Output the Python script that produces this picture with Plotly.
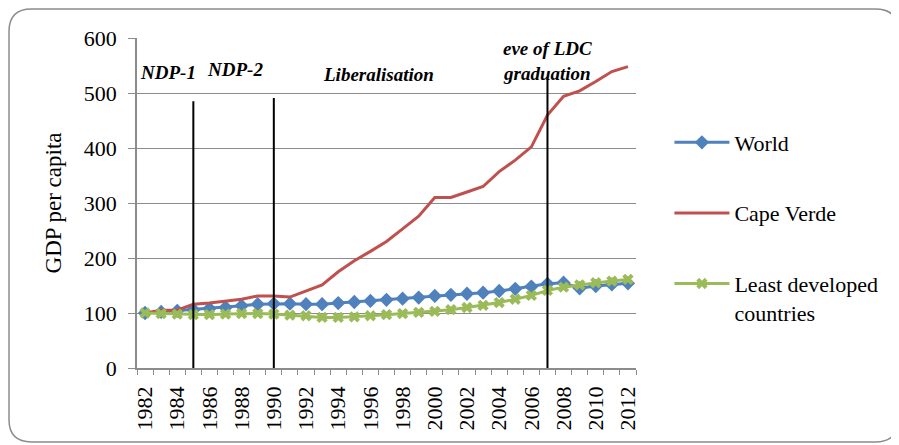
import plotly.graph_objects as go

years = list(range(1982, 2013))
world = [100, 102, 104, 106, 108, 110, 113, 116, 117, 117, 116, 116, 118, 120, 122, 124,
         126, 128, 131, 133, 135, 137, 140, 144, 148, 153, 155, 145, 149, 152, 154]
cape_verde = [100, 105, 105, 116, 118, 121, 125, 131, 131, 129, 140, 151, 175, 195, 212, 230,
              253, 276, 310, 310, 320, 330, 357, 378, 402, 460, 494, 504, 521, 539, 548]
ldc = [100, 99, 98, 97, 97, 98, 99, 99, 98, 96, 95, 92, 92, 93, 95, 97,
       99, 101, 103, 106, 110, 114, 119, 125, 132, 141, 147, 151, 155, 158, 161]
tick_years = list(range(1982, 2013, 2))

period_years = [1985, 1990, 2007]
period_tops = [485, 491, 525]
period_labels = ["NDP-1", "NDP-2", "Liberalisation", "eve of LDC<br>graduation"]
period_label_x = [1983.43, 1987.6, 1996.5, 2007.0]
period_label_y = [538, 542, 533, 558]

FONT = "'Liberation Serif', 'Times New Roman', serif"

fig = go.Figure()
fig.add_trace(go.Scatter(x=years, y=world, name="World", mode="lines+markers",
                         line=dict(color="#4F81BD", width=3),
                         marker=dict(symbol="diamond", size=11, color="#4F81BD"),
                         legendgroup="a"))
fig.add_trace(go.Scatter(x=years, y=cape_verde, name="Cape Verde", mode="lines",
                         line=dict(color="#C0504D", width=3),
                         legendgroup="b"))
fig.add_trace(go.Scatter(x=years, y=ldc, name="Least developed<br>countries", mode="lines+markers",
                         line=dict(color="#9BBB59", width=3),
                         marker=dict(symbol="x", size=10, color="#9BBB59"),
                         legendgroup="c"))

shapes = []
for yr, top in zip(period_years, period_tops):
    shapes.append(dict(type="line", xref="x", yref="y", x0=yr, x1=yr, y0=0, y1=top,
                       line=dict(color="black", width=2), layer="above"))

# rounded chart border (paper coords; plot area 499x330 px)
L, R, T, B = -0.2565, 1.525, 1.088, -0.224
rx, ry = 0.045, 0.068
path = (f"M{L+rx},{T} L{R-rx},{T} Q{R},{T} {R},{T-ry} L{R},{B+ry} Q{R},{B} {R-rx},{B} "
        f"L{L+rx},{B} Q{L},{B} {L},{B+ry} L{L},{T-ry} Q{L},{T} {L+rx},{T} Z")
shapes.append(dict(type="path", xref="paper", yref="paper", path=path,
                   line=dict(color="#8c8c8c", width=1.5), layer="below"))

annotations = []
for txt, ax, ay in zip(period_labels, period_label_x, period_label_y):
    annotations.append(dict(x=ax, y=ay, xref="x", yref="y", text=f"<b><i>{txt}</i></b>",
                            showarrow=False, font=dict(family=FONT, size=19, color="black")))

fig.update_layout(
    width=891, height=437,
    margin=dict(l=129, r=263, t=30, b=77),
    paper_bgcolor="white", plot_bgcolor="white",
    font=dict(family=FONT, size=22, color="black"),
    shapes=shapes, annotations=annotations,
    legend=dict(x=1.067, y=0.747, xanchor="left", yanchor="top",
                font=dict(family=FONT, size=22, color="black"),
                tracegroupgap=39, valign="top", itemwidth=55,
                bgcolor="rgba(0,0,0,0)"),
    xaxis=dict(range=[1981.5, 2012.5], tickangle=-90,
               tickmode="array", tickvals=tick_years, ticktext=[str(y) for y in tick_years],
               ticks="", ticklabelstandoff=8,
               minor=dict(ticks="outside", ticklen=5, tickcolor="#8c8c8c", tick0=1981.5,
                          dtick=1, showgrid=False),
               showline=True, linecolor="#8c8c8c", linewidth=1.5, showgrid=False,
               zeroline=False, tickfont=dict(family=FONT, size=22), fixedrange=True),
    yaxis=dict(range=[0, 600], dtick=100, ticks="outside", ticklen=7, tickcolor="#8c8c8c",
               ticklabelstandoff=7,
               showline=True, linecolor="#8c8c8c", linewidth=1.5,
               showgrid=True, gridcolor="#8c8c8c", gridwidth=1.2, zeroline=False,
               tickfont=dict(family=FONT, size=22),
               title=dict(text="GDP per capita", font=dict(family=FONT, size=23), standoff=16)),
    showlegend=True,
)

fig.write_html("out.html")
